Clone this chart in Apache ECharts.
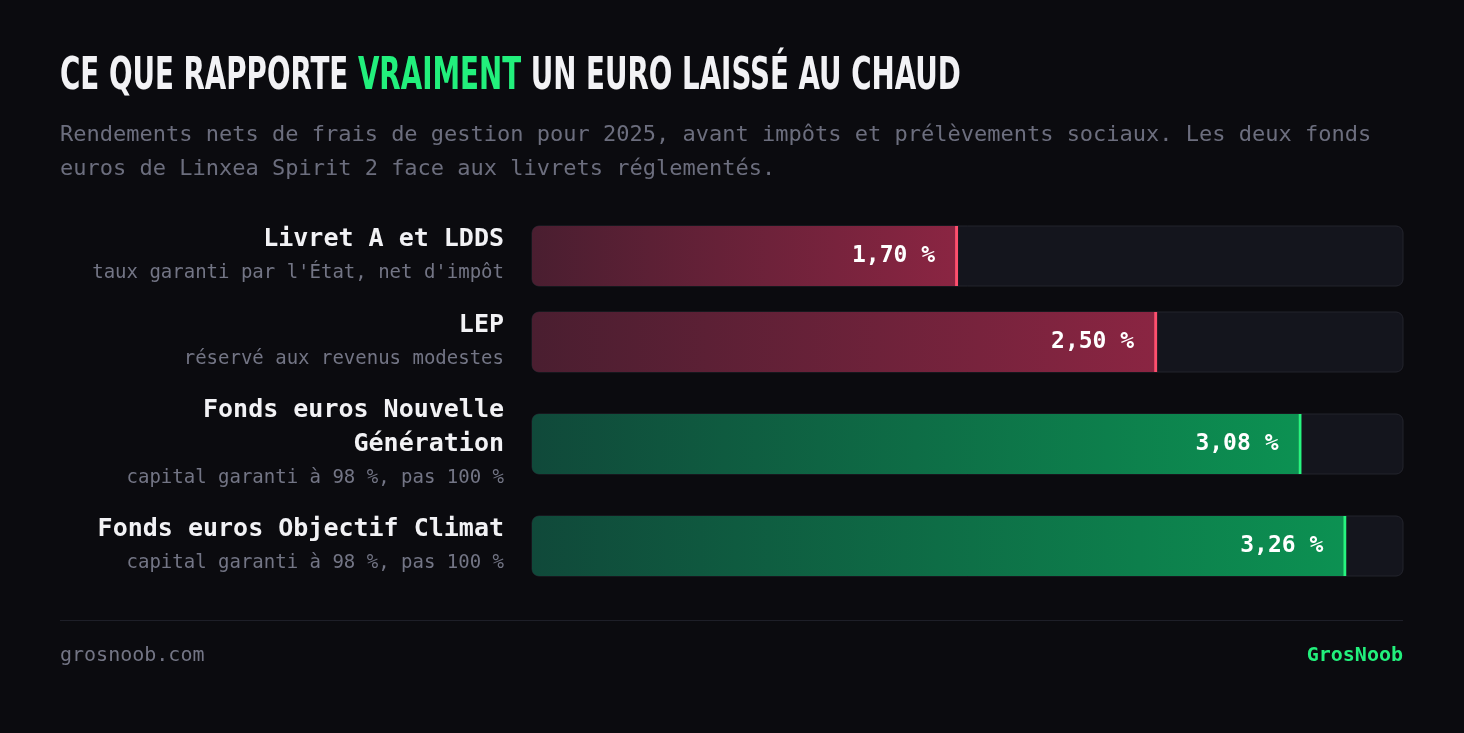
<!DOCTYPE html>
<html><head><meta charset="utf-8">
<script src="https://cdn.jsdelivr.net/npm/echarts@6/dist/echarts.min.js"></script>
<style>html,body{margin:0;background:#0b0b0f}#c{width:1464px;height:733px}</style>
</head><body><div id="c"></div>
<script>
const categories = ['Livret A et LDDS','LEP','Fonds euros Nouvelle\nGénération','Fonds euros Objectif Climat'];
const subtitles = ["taux garanti par l'État, net d'impôt",'réservé aux revenus modestes','capital garanti à 98 %, pas 100 %','capital garanti à 98 %, pas 100 %'];
const values = [1.70, 2.50, 3.08, 3.26];
const kinds = ['red','red','green','green'];
const maxValue = 3.5;

const mono = "'DejaVu Sans Mono', monospace";
const cond = "'DejaVu Sans Condensed','Liberation Sans Narrow',sans-serif";
const tops = [226, 312, 414, 516];
const pal = {
  red: {c0:'#4a1e30', c1:'#8a2542', edge:'#ff4f6e'},
  green: {c0:'#10493a', c1:'#0c9152', edge:'#26f57f'}
};
const grids=[], xAxes=[], yAxes=[], series=[];
categories.forEach((cat,i)=>{
  const p = pal[kinds[i]];
  grids.push({left:532, right:61, top:tops[i], height:60});
  xAxes.push({gridIndex:i, type:'value', min:0, max:maxValue, show:false});
  yAxes.push({gridIndex:i, type:'category', data:[cat], axisLine:{show:false}, axisTick:{show:false},
    axisLabel:{margin:28, align:'right', formatter:(v)=>v.split('\n').map(l=>'{t|'+l+'}').join('\n')+'\n{s|'+subtitles[i]+'}',
      rich:{t:{fontFamily:mono,fontWeight:'bold',fontSize:25,color:'#f2f2f5',lineHeight:34,align:'right'},
            s:{fontFamily:mono,fontSize:19,color:'#737585',lineHeight:34,align:'right'}}}});
  series.push({type:'bar', xAxisIndex:i, yAxisIndex:i, stack:'s'+i, data:[values[i]], barWidth:60,
    showBackground:true, backgroundStyle:{color:'#14151d', borderRadius:7, borderColor:'#23242d', borderWidth:1},
    itemStyle:{borderRadius:[7,0,0,7], color:new echarts.graphic.LinearGradient(0,0,1,0,[{offset:0,color:p.c0},{offset:1,color:p.c1}])},
    label:{show:true, position:'insideRight', distance:20, formatter:()=>values[i].toFixed(2).replace('.',',')+' %',
      fontFamily:mono, fontWeight:'bold', fontSize:23, color:'#ffffff'}});
  series.push({type:'bar', xAxisIndex:i, yAxisIndex:i, stack:'s'+i, data:[0.012], barWidth:60, itemStyle:{color:p.edge}, silent:true});
});
const chart = echarts.init(document.getElementById('c'));
chart.setOption({
  backgroundColor:'#0b0b0f', animation:false,
  grid:grids, xAxis:xAxes, yAxis:yAxes, series:series,
  graphic:[
    {type:'text', x:60, y:56, scaleX:0.7, style:{text:'{a|CE QUE RAPPORTE }{g|VRAIMENT}{a| UN EURO LAISSÉ AU CHAUD}',
      rich:{a:{fontFamily:cond,fontWeight:'bold',fontSize:44,fill:'#f2f2f5'},
            g:{fontFamily:cond,fontWeight:'bold',fontSize:44,fill:'#22f07c'}}}},
    {type:'text', left:60, top:118, style:{text:'Rendements nets de frais de gestion pour 2025, avant impôts et prélèvements sociaux. Les deux fonds\neuros de Linxea Spirit 2 face aux livrets réglementés.',
      fontFamily:mono, fontSize:22, lineHeight:34, fill:'#6c6e7e'}},
    {type:'rect', shape:{x:60, y:620, width:1343, height:1}, style:{fill:'#1e1f28'}},
    {type:'text', left:60, top:646, style:{text:'grosnoob.com', fontFamily:mono, fontSize:20, fill:'#737585'}},
    {type:'text', right:61, top:646, style:{text:'GrosNoob', fontFamily:mono, fontWeight:'bold', fontSize:20, fill:'#22f07c'}}
  ]
});
</script></body></html>
